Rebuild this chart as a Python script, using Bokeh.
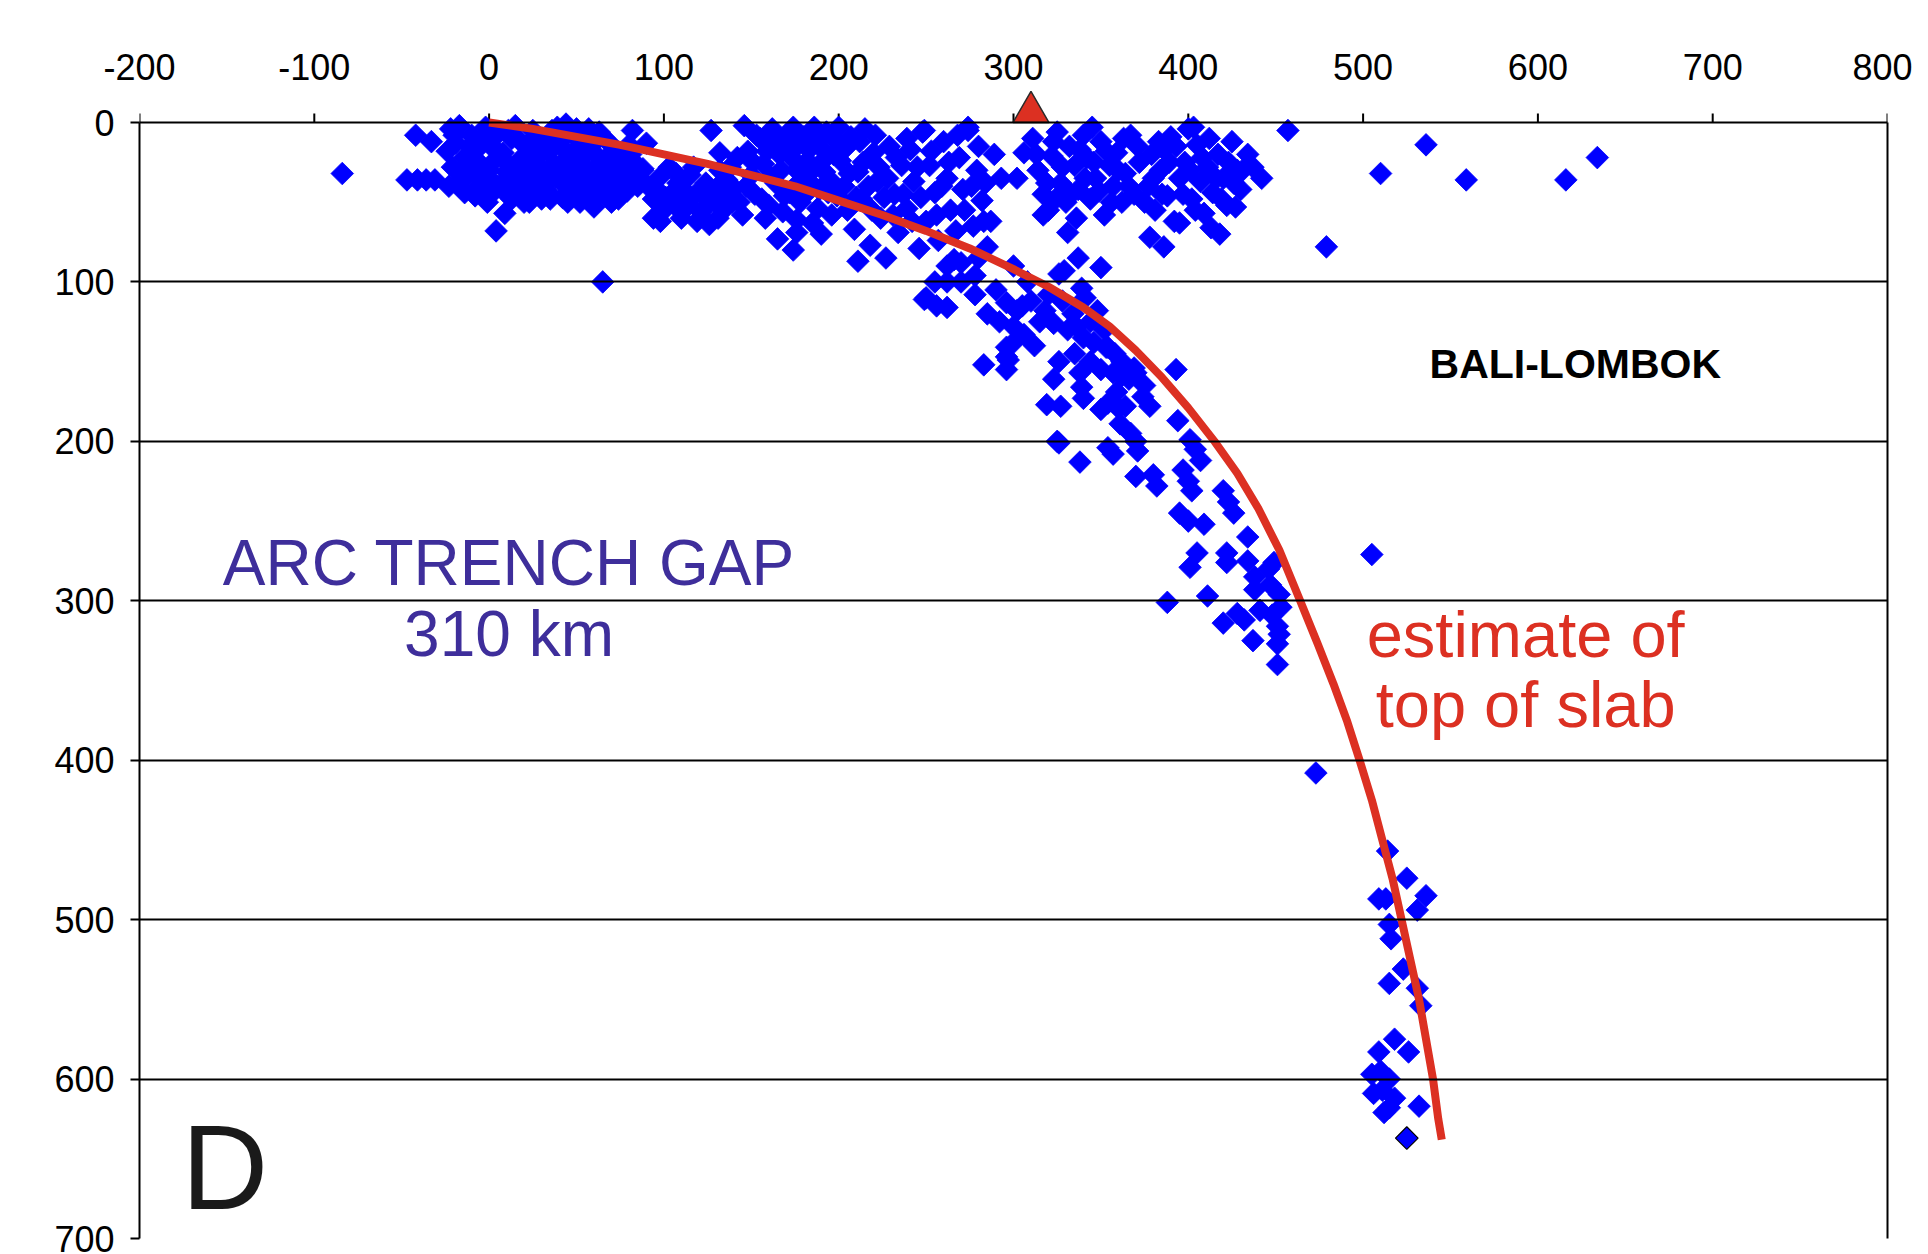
from bokeh.plotting import figure
from bokeh.models import Range1d, FixedTicker, Label, LinearAxis, PrintfTickFormatter
from bokeh.embed import file_html
from bokeh.resources import INLINE

FONT = "Liberation Sans"
RED = "#dc3022"
BLUE = "#0000ff"
PURPLE = "#3e2e9b"

# ---------------- data ----------------
x_ticks = [-200, -100, 0, 100, 200, 300, 400, 500, 600, 700, 800]
depth_ticks = [0, 100, 200, 300, 400, 500, 600, 700]

# earthquake hypocentres (distance from trench km, depth km)
shallow_west_x = [-84, -42, -33, -47, -41, -36, -31]
shallow_west_d = [32, 8, 12, 36, 36, 36, 36]

trench_x = [-22, -17, -24, -19, -21, -14, -18, -12, -23, -10, -7, -4, -6, -2, 1, 3, -1, 2, 6, 8, 10, 7, 12,
            13, 15, 17, 19, 16, 21, 23, 25, 27, 29, 31, 33, 35, 37, 39, 41, 43, 45, 44, 47, 49, 51, 53,
            55, 57, 58, 60, 62, 64, 66, 68, 70, 72, 74, 76, 78, 80, 82, 84, 86, 88, 57, 63, 42, 30, 20,
            13, -8, 9, 4, 26, 34, 48, 54, 67, 73, 65, 82, 90, 94, 35, 52, 60,
            -20, -16, -11, -9, -5, -3, 0, 4, 5, 9, 11, 11, 14, 18, 18, 22, 24, 27, 28, 32, 34, 36, 38,
            40, 42, 46, 48, 50, 52, 55, 56, 59, 61, 63, 65, 67, 69, 71, 74, 77, 79, 81, 85, -14, -1,
            23, 45, 70]
trench_d = [4, 2, 18, 13, 28, 22, 38, 33, 40, 8, 17, 27, 40, 3, 14, 24, 34, 44, 6, 19, 31, 39, 47,
            10, 2, 24, 36, 44, 15, 30, 5, 41, 20, 33, 11, 45, 26, 3, 37, 17, 28, 1, 43, 9, 31, 22,
            38, 4, 15, 47, 27, 35, 10, 42, 19, 30, 48, 23, 38, 14, 32, 26, 36, 29, 48, 44, 47, 48, 50,
            48, 46, 57, 68, 33, 36, 26, 14, 25, 33, 100, 5, 13, 60, 48, 50, 53,
            8, 30, 15, 26, 35, 10, 30, 18, 40, 24, 5, 37, 29, 12, 42, 22, 38, 9, 27, 42, 19, 5, 34,
            12, 25, 35, 19, 4, 42, 28, 10, 36, 20, 6, 30, 44, 13, 37, 22, 30, 43, 20, 40, 44, 50,
            50, 50, 50]

forearc_x = [88, 91, 94, 97, 100, 103, 105, 108, 110, 112, 115, 118, 121, 124, 126, 129, 132, 134, 98,
             127, 132, 119, 106,
             138, 140, 143, 146, 148, 150, 152, 155, 157, 160, 162, 164, 166, 168, 170, 172, 174, 176,
             178, 180, 182, 184, 186, 188, 190, 192, 194, 196, 198, 185, 190, 165, 174, 176, 176, 158,
             145, 200,
             201, 203, 205, 207, 209, 211, 213, 215, 218, 220, 222, 224, 227, 229, 232, 234, 236, 239,
             241, 243, 246, 249, 250, 252, 255, 257, 260, 262, 264, 266, 269, 271, 274, 277, 279, 282,
             211, 284, 287, 289, 274, 248,
             96, 101, 107, 111, 114, 117, 122, 125, 131, 136, 139, 142, 147, 151, 153, 156, 159, 161,
             163, 167, 169, 171, 173, 175, 177, 179, 181, 183, 185, 187, 189, 191, 193, 195, 197, 199,
             136, 131, 109,
             204, 206, 210, 212, 214, 217, 219, 221, 223, 226, 228, 231, 233, 237, 239, 242, 245, 247,
             253, 256, 259, 263, 267, 268, 272, 276, 280, 283]
forearc_d = [30, 40, 48, 35, 55, 28, 44, 38, 60, 50, 33, 45, 56, 38, 64, 47, 30, 55, 62,
             5, 19, 62, 50,
             28, 41, 50, 2, 18, 33, 45, 10, 26, 52, 4, 38, 20, 56, 14, 44, 3, 30,
             50, 9, 24, 38, 3, 54, 16, 31, 44, 58, 11, 63, 70, 73, 80, 61, 69, 60,
             58, 3,
             24, 40, 55, 9, 67, 31, 48, 4, 77, 19, 37, 60, 85, 15, 45, 69, 27, 54,
             17, 37, 79, 5, 62, 27, 44, 74, 12, 35, 55, 86, 22, 42, 5, 65, 30, 49,
             87, 38, 62, 20, 3, 6,
             42, 47, 32, 42, 52, 28, 44, 52, 40, 36, 50, 22, 40, 25, 8, 48, 18, 34,
             12, 30, 46, 7, 22, 40, 14, 36, 45, 17, 30, 10, 42, 24, 6, 36, 20, 46,
             47, 60, 55,
             16, 32, 47, 12, 25, 40, 55, 8, 28, 47, 35, 58, 22, 45, 10, 62, 28, 47,
             18, 58, 40, 25, 68, 8, 55, 40, 15, 62]

arc_x = [306, 293, 302, 311, 314, 317, 320, 322, 325, 327, 330, 332, 335, 337, 340, 342, 344, 347, 350,
         352, 355, 357, 359, 362, 364, 367, 369, 372, 331, 317, 345, 336, 324,
         377, 379, 381, 384, 386, 388, 390, 392, 395, 398, 400, 402, 405, 407, 409, 411, 414, 417, 420,
         422, 425, 428, 430, 434, 442, 427, 386, 378, 413, 418, 395, 403, 383,
         313, 319, 323, 328, 333, 338, 341, 346, 349, 353, 356, 360, 363, 366, 371, 375, 380, 385,
         389, 393, 397, 401, 404, 408, 412, 416, 419, 423, 426, 431, 437]
arc_d = [19, 35, 35, 10, 30, 45, 55, 21, 6, 38, 50, 15, 27, 42, 8, 22, 48, 35, 12,
         58, 27, 40, 19, 50, 32, 8, 45, 25, 69, 58, 3, 60, 48,
         40, 20, 55, 30, 17, 46, 9, 62, 35, 25, 4, 48, 14, 37, 57, 28, 44, 20, 35,
         52, 12, 30, 42, 20, 35, 53, 78, 72, 66, 70, 63, 3, 12,
         20, 38, 12, 28, 45, 17, 35, 25, 43, 18, 50, 30, 10, 40, 15, 50, 35, 45,
         25, 15, 45, 30, 55, 22, 10, 35, 48, 25, 38, 30, 28]

backarc_x = [457, 479, 510, 536, 559, 616, 634]
backarc_d = [5, 78, 32, 14, 36, 36, 22]

slab_x = [250, 256, 262, 270, 278, 285, 290, 296, 300, 302, 306, 308, 315, 320, 323, 326, 329, 339, 341,
          337, 350, 353, 348, 331, 336, 340,
          249, 262, 283, 296, 296, 296, 297, 300, 305, 354, 326, 323, 319, 338, 339, 340, 357, 362, 366,
          350, 354, 359, 360, 361, 370, 375, 374, 378, 369, 393, 394, 326, 338, 354, 357, 370, 370,
          382, 401, 404, 407, 397, 400, 402, 395, 400, 409, 420, 423, 426, 434, 405, 401, 422, 422,
          434, 438, 446, 449, 438, 447, 452, 388, 411, 428, 432, 420, 441, 448, 453, 451, 452, 437,
          451, 451, 327, 325, 350, 364, 367, 371, 380, 505,
          310, 318, 328, 334, 344, 346, 352, 358, 362, 344, 335, 312, 300, 292, 285, 278, 270, 280,
          262, 255]
slab_d = [110, 115, 100, 88, 96, 78, 105, 113, 90, 118, 133, 100, 125, 108, 126, 95, 93, 104, 110,
          85, 91, 141, 118, 130, 128, 135,
          111, 116, 152, 147, 155, 141, 149, 128, 115, 141, 150, 161, 177, 157, 166, 173, 157, 159, 161,
          180, 176, 169, 179, 189, 157, 165, 172, 178, 154, 155, 187, 201, 213, 204, 208, 200, 222,
          228, 199, 205, 212, 218, 225, 231, 245, 250, 252, 231, 238, 245, 260, 270, 279, 270, 276,
          275, 285, 280, 276, 293, 290, 296, 301, 297, 308, 312, 314, 306, 309, 304, 316, 321, 325,
          327, 340, 178, 200, 155, 178, 195, 206, 221, 271,
          112, 118, 112, 120, 125, 138, 130, 145, 150, 150, 145, 140, 138, 125, 120, 108, 100, 85,
          90, 100]

deep_x = [473, 514, 525, 509, 513, 536, 531, 515, 516, 523, 515, 531, 533, 518, 509, 526, 505, 510,
          515, 506, 511, 518, 512, 515, 532]
deep_d = [408, 457, 474, 487, 487, 485, 494, 503, 512, 531, 540, 543, 554, 575, 583, 583, 597, 595,
          600, 609, 607, 612, 621, 618, 617]

deepest_x = [525]
deepest_d = [637]

# estimated top of slab
slab_top_x = [0, 25, 50, 75, 100, 125, 150, 175, 200, 225, 250, 275, 300, 320, 340, 355, 370, 385,
              400, 415, 428, 440, 452, 464, 474, 483, 491, 498, 505, 511, 517, 522, 527, 532, 536,
              540, 543, 545]
slab_top_d = [0, 4, 9, 14, 20, 26, 33, 40, 49, 58, 68, 79, 92, 103, 116, 128, 143, 160,
              179, 200, 220, 242, 268, 300, 327, 352, 376, 400, 425, 450, 475, 500, 525, 550, 575,
              600, 625, 638]

# volcanic arc position
arc_front_x = [310]

# ---------------- figure ----------------
W, H = 1912, 1254
BL, BR, BT, BB = 139, 25, 86, 16
TOP_PAD_PX = 36                      # room above depth 0 for the volcano symbol
TICK_PX = 9
frame_h = H - BT - BB
px_per_km = (frame_h - TOP_PAD_PX) / 700.0
pad_km = TOP_PAD_PX / px_per_km

p = figure(width=W, height=H, x_range=Range1d(-200, 800), y_range=Range1d(700, -pad_km),
           x_axis_location="above", output_backend="svg", toolbar_location=None,
           min_border_left=BL, min_border_right=BR, min_border_top=BT, min_border_bottom=BB)
p.background_fill_color = "white"
p.border_fill_color = "white"
p.outline_line_color = None

# top axis: labels only (the depth-0 line is drawn by the grid, ticks below)
xa = p.xaxis[0]
xa.ticker = FixedTicker(ticks=x_ticks)
xa.formatter = PrintfTickFormatter(format="%d")
xa.axis_line_color = None
xa.major_tick_line_color = None
xa.major_tick_out = 0
xa.major_tick_in = 0
xa.minor_tick_line_color = None
xa.major_label_text_font = FONT
xa.major_label_text_font_size = "36px"
xa.major_label_text_color = "black"
xa.major_label_standoff = 7

ya = p.yaxis[0]
ya.ticker = FixedTicker(ticks=depth_ticks)
ya.bounds = (0, 700)
ya.axis_line_color = "black"
ya.axis_line_width = 2
ya.major_tick_line_color = "black"
ya.major_tick_line_width = 2
ya.major_tick_out = TICK_PX
ya.major_tick_in = 0
ya.minor_tick_line_color = None
ya.major_label_text_font = FONT
ya.major_label_text_font_size = "36px"
ya.major_label_text_color = "black"
ya.major_label_standoff = 16

right = LinearAxis(ticker=FixedTicker(ticks=[]), bounds=(0, 700), axis_line_color="black",
                   axis_line_width=2, major_tick_out=0, major_tick_in=0,
                   minor_tick_line_color=None, major_label_text_font_size="0px")
p.add_layout(right, "right")

p.xgrid.visible = False
p.ygrid.ticker = FixedTicker(ticks=depth_ticks)
p.ygrid.grid_line_color = "black"
p.ygrid.grid_line_width = 2
p.ygrid.level = "guide"

# tick marks of the distance axis, pointing up from the depth-0 line
tick_top = [-TICK_PX / px_per_km] * len(x_ticks)
tick_base = [0] * len(x_ticks)
p.segment(x0=x_ticks, y0=tick_base, x1=x_ticks, y1=tick_top, line_color="black", line_width=2)

all_x = shallow_west_x + trench_x + forearc_x + arc_x + backarc_x + slab_x + deep_x
all_d = shallow_west_d + trench_d + forearc_d + arc_d + backarc_d + slab_d + deep_d

p.scatter(all_x, all_d, marker="square", size=16, angle=45, angle_units="deg",
          fill_color=BLUE, line_color=BLUE, line_width=0.8)
p.scatter(deepest_x, deepest_d, marker="square", size=16, angle=45, angle_units="deg",
          fill_color=BLUE, line_color="black", line_width=1.2)

p.line(slab_top_x, slab_top_d, line_color=RED, line_width=8, line_join="round")

# volcano triangle sitting on the depth-0 line
TRI = 36
tri_h = TRI * 3 ** 0.5 / 2
tri_center_d = [-(tri_h / 3) / px_per_km for _ in arc_front_x]
p.scatter(arc_front_x, tri_center_d, marker="triangle", size=TRI, fill_color=RED,
          line_color="#2a2a2a", line_width=1.5)

# texts (baseline correction of ~0.37 em applied)
def lab(x, y_base, text, size, color, align="left", bold=False):
    y = y_base - 0.37 * size / px_per_km
    p.add_layout(Label(x=x, y=y, text=text, text_font=FONT, text_font_size=f"{size}px",
                       text_font_style="bold" if bold else "normal", text_color=color,
                       text_align=align, text_baseline="alphabetic"))

lab(538, 161, "BALI-LOMBOK", 41, "black", bold=True)
lab(11.4, 291, "ARC TRENCH GAP", 64, PURPLE, align="center")
lab(11.4, 335.4, "310 km", 64, PURPLE, align="center")
lab(593, 336, "estimate of", 65, RED, align="center")
lab(593, 380, "top of slab", 65, RED, align="center")
lab(-176, 683, "D", 120, "#1a1a1a")

open("out.html", "w").write(file_html(p, INLINE))
